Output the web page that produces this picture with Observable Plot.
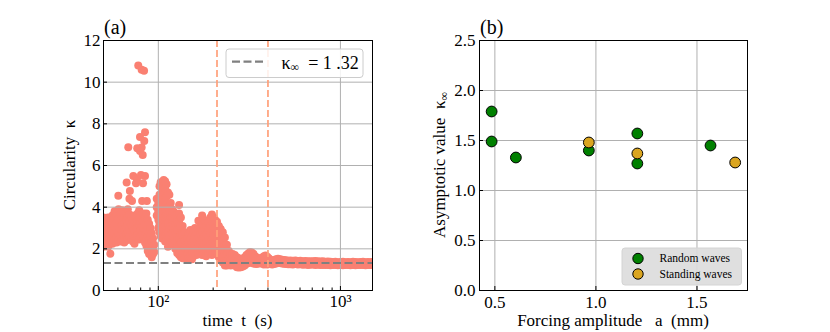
<!DOCTYPE html>
<html><head><meta charset="utf-8">
<script src="https://cdn.jsdelivr.net/npm/d3@7"></script>
<script src="https://cdn.jsdelivr.net/npm/@observablehq/plot@0.6"></script>
<style>
html,body{margin:0;padding:0;background:#fff;}
#wrap{display:flex;width:830px;height:332px;overflow:hidden;}
</style></head><body><div id="wrap"></div>
<script>
// ---------- Panel (a): circularity vs time ----------
// isolated high values (t in s, kappa)
const peakT = [68.4, 77.6, 81, 83.5, 84.5, 79.3, 83.7, 76.6, 81, 79.3, 82.1, 67, 72.9, 76.3, 80.3, 84.5, 75.4, 82.4, 69.8, 69.4, 71.7, 60.3, 81.5, 86.5];
const peakK = [6.88, 10.8, 10.6, 10.55, 7.6, 7.37, 7.18, 6.83, 6.86, 6.7, 6.5, 5.18, 5.5, 5.35, 5.55, 5.5, 5.15, 5.15, 4.78, 4.4, 4.3, 4.55, 4.3, 4.3];
// early burst: [t, kappa values at that time]
const burstRows = [
  [50,[3.5,3.15,2.8,2.45,2.1]],[51.5,[3.35,3.0,2.65,2.3]],[53,[3.5,3.15,2.8,2.45,2.1]],
  [54.5,[3.3,2.95,2.6,2.25,1.77]],[56,[3.6,3.25,2.9,2.55,2.25]],[57.5,[3.8,3.45,3.1,2.75,2.4]],
  [59,[3.6,3.25,2.9,2.55,2.3]],[60.5,[3.9,3.45,3.1,2.75,2.4]],[62,[3.7,3.35,3.0,2.65,2.35]],
  [63.5,[3.85,3.5,3.15,2.8,2.45]],[65,[3.6,3.25,2.9,2.55,2.3]],[66.5,[3.75,3.4,3.05,2.7,2.4]],
  [68,[3.9,3.5,3.15,2.8,2.45]],[69.5,[3.65,3.3,2.95,2.6]],[71,[3.5,3.15,2.8,2.45]],
  [72.5,[3.4,3.05,2.7,2.35]],[74,[3.6,3.25,2.9,2.55,2.25]],[75.5,[3.3,2.95,2.6]],
  [77,[3.7,3.35,3.0,2.65]],[78.5,[3.85,3.5,3.15,2.8,2.45]],[80,[3.6,3.25,2.9,2.6]],
  [81.5,[3.4,3.05,2.7]],[83,[3.7,3.35,3.0,2.6]],[84.5,[3.5,3.1,2.7,2.3]],
  [86,[3.7,3.3,2.9,2.5,2.15]],[87.5,[3.4,3.0,2.6,2.2,1.9]],[89,[3.2,2.8,2.4,2.0,1.75]],
  [90.5,[3.0,2.6,2.2,1.85]],[92,[2.75,2.35,1.95,1.6]],[93.5,[2.5,2.1,1.75]],[95,[2.2,1.85]]
];
// decay towards the plateau
const decayRows = [
  [98,[4.4,4.0,3.6]],[100,[4.2,3.8,3.4,3.0]],[101.5,[5.0,4.6,3.2,2.8]],
  [103,[5.2,4.3,3.9,3.5,2.6]],[105,[4.9,4.5,4.1,3.7,3.3,2.9,2.5]],[107,[5.3,4.7,3.8,3.4,3.0,2.6]],
  [109,[5.25,4.9,4.3,3.9,3.5,3.1,2.7,2.35]],[111,[5.1,4.5,4.1,3.6,3.2,2.8,2.4]],
  [113,[4.7,4.0,3.6,3.2,2.8,2.4,2.1]],[115,[4.6,3.8,3.4,3.0,2.6,2.2]],[117,[4.2,3.5,3.1,2.7,2.3]],
  [119,[3.9,3.5,3.1,2.7,2.3]],[121,[3.8,3.4,3.0,2.6,2.2]],[124,[3.6,3.2,2.8,2.4,2.0]],
  [127,[3.3,2.9,2.5,2.1,1.8]],[130,[4.1,3.7,3.3,2.9,2.5,2.1,1.7]],[133,[3.5,3.1,2.7,2.3,1.9,1.6]],
  [136,[3.1,2.7,2.3,1.9,1.55]],[140,[2.8,2.4,2.0,1.6]],[144,[2.5,2.1,1.75,1.5]],
  [147,[2.7,2.3,1.9,1.55]],[150,[2.9,2.5,2.1,1.7]],[153,[2.6,2.2,1.8,1.5]],
  [156,[2.8,2.4,2.0,1.65]],[159,[3.0,2.6,2.2,1.8]],[162,[2.8,2.4,2.0,1.7]],
  [166,[3.35,2.95,2.55,2.15,1.8]],[170,[3.1,2.7,2.3,1.9]],[174,[3.6,3.2,2.8,2.4,2.0,1.7]],
  [178,[3.4,3.0,2.6,2.2,1.85]],[183,[3.1,2.7,2.3,1.9,1.65]],[188,[3.3,2.9,2.5,2.1,1.8]],
  [193,[3.5,3.1,2.7,2.3,1.9]],[197,[3.65,3.25,2.85,2.45,2.05,1.7]],[201,[3.5,3.1,2.7,2.3,1.9]],
  [205,[3.4,3.0,2.6,2.2,1.85]],[210,[3.3,2.9,2.5,2.1,1.75]],[215,[3.1,2.7,2.3,1.9,1.6]],
  [220,[2.95,2.55,2.15,1.75,1.45]],[226,[2.8,2.4,2.0,1.6,1.35]],[232,[2.55,2.15,1.75,1.4,1.2]],
  [238,[2.2,1.8,1.45,1.2]],[244,[1.9,1.55,1.25]],[250,[1.75,1.45,1.2]]
];
// settling oscillations
const settleRows = [
  [256,[1.75,1.5,1.25]],[263,[1.7,1.45,1.2]],[270,[1.6,1.35,1.12]],[277,[1.55,1.3,1.1]],
  [284,[1.5,1.28,1.12]],[291,[1.5,1.3,1.15]],[298,[1.6,1.38,1.2]],
  [305,[1.7,1.48,1.28]],[312,[1.78,1.55,1.32]],[319,[1.85,1.6,1.35]],[326,[1.82,1.58,1.35]],
  [333,[1.75,1.5,1.3]],[340,[1.65,1.45,1.28]],[348,[1.58,1.4,1.27]],[356,[1.52,1.35]],
  [364,[1.5,1.3]],[372,[1.58,1.35]],[380,[1.65,1.42,1.25]],[388,[1.68,1.45,1.28]],
  [396,[1.62,1.42,1.25]],[404,[1.55,1.35]],[413,[1.48,1.3]],
  [422,[1.42,1.25]],[432,[1.45,1.27]],[443,[1.5,1.3]],[454,[1.52,1.32]],[466,[1.5,1.33]],
  [478,[1.48,1.3]],[490,[1.46,1.28]],[503,[1.45,1.27]],[516,[1.43,1.26]]
];
// late plateau (upper and lower edge of the narrow band)
const plateauT  = [530,548,566,584,602,622,642,663,684,706,728,752,776,800,826,853,881,910,938,968,1000,1032,1065,1100,1135,1172,1209,1248,1288,1330,1373,1417,1462,1495];
const plateauHi = [1.44,1.43,1.44,1.42,1.43,1.41,1.42,1.4,1.41,1.4,1.42,1.4,1.39,1.4,1.38,1.39,1.38,1.37,1.38,1.36,1.37,1.38,1.36,1.37,1.36,1.38,1.37,1.36,1.37,1.38,1.36,1.37,1.36,1.37];
const plateauLo = [1.26,1.25,1.27,1.25,1.26,1.24,1.25,1.23,1.24,1.25,1.23,1.24,1.22,1.23,1.22,1.23,1.21,1.22,1.23,1.21,1.22,1.21,1.22,1.23,1.21,1.22,1.21,1.22,1.23,1.22,1.21,1.22,1.23,1.22];
const kInf = 1.32;
const tMarks = [210, 400];
const yTicksA = [0, 2, 4, 6, 8, 10, 12];
const xMajorA = [100, 1000];
const xMinorA = [50, 60, 70, 80, 90, 200, 300, 400, 500, 600, 700, 800, 900];

// ---------- Panel (b): asymptotic value vs forcing amplitude ----------
const randomA   = [0.484, 0.484, 0.604, 0.965, 1.205, 1.205, 1.567];
const randomK   = [1.79, 1.49, 1.33, 1.40, 1.57, 1.27, 1.45];
const standingA = [0.965, 1.205, 1.689];
const standingK = [1.48, 1.37, 1.28];
const yTicksB = [0, 0.5, 1.0, 1.5, 2.0, 2.5];
const xTicksB = [0.5, 1.0, 1.5];
const seriesNames = ["Random waves", "Standing waves"];
const seriesColors = ["#008000", "#daa520"];

// ---------- build ----------
const rowsToPoints = rows => rows.flatMap(([t, ks]) => ks.map(k => ({t, k})));
const pointsA = [
  ...peakT.map((t, i) => ({t, k: peakK[i]})),
  ...rowsToPoints(burstRows), ...rowsToPoints(decayRows), ...rowsToPoints(settleRows),
  ...plateauT.flatMap((t, i) => [{t, k: plateauHi[i]}, {t, k: plateauLo[i]}])
];
const randomPts = randomA.map((a, i) => ({a, k: randomK[i]}));
const standingPts = standingA.map((a, i) => ({a, k: standingK[i]}));

const W = 415, H = 332;
const FONT = "Liberation Serif";
const style = {fontFamily: FONT, fontSize: "17px", color: "#000", background: "none", overflow: "visible"};
const gridStyle = {stroke: "#b0b0b0", strokeOpacity: 1, strokeWidth: 1};
const axisText = {fontSize: 17, fill: "#000"};
const mA = {top: 40, right: 43, bottom: 42, left: 103};
const mB = {top: 40, right: 83, bottom: 42, left: 64};
const fwA = W - mA.left - mA.right, fhA = H - mA.top - mA.bottom;
const fwB = W - mB.left - mB.right, fhB = H - mB.top - mB.bottom;

const plotA = Plot.plot({
  width: W, height: H,
  marginTop: mA.top, marginRight: mA.right, marginBottom: mA.bottom, marginLeft: mA.left,
  style,
  x: {type: "log", domain: [50, 1500], label: null},
  y: {domain: [0, 12], label: null},
  marks: [
    Plot.dot(pointsA, {x: "t", y: "k", r: 4, fill: "#fa8072", clip: true}),
    Plot.gridY(yTicksA, gridStyle),
    Plot.gridX(xMajorA, gridStyle),
    Plot.ruleY([kInf], {stroke: "#808080", strokeWidth: 2.2, strokeDasharray: "8,3.5"}),
    Plot.ruleX(tMarks, {stroke: "#ffa07a", strokeWidth: 1.7, strokeDasharray: "7,3"}),
    Plot.tickY(yTicksA, {y: d => d, insetRight: fwA - 4, stroke: "#000"}),
    Plot.tickX(xMajorA, {x: d => d, insetTop: fhA - 4, stroke: "#000"}),
    Plot.tickX(xMinorA, {x: d => d, insetTop: fhA - 2.5, stroke: "#000"}),
    Plot.axisY(yTicksA, {tickSize: 0, tickPadding: 3, label: null, ...axisText}),
    Plot.axisX(xMajorA, {tickSize: 0, tickPadding: 4, label: null, ...axisText, tickFormat: d => d === 100 ? "10\u00b2" : "10\u00b3"}),
    Plot.frame({stroke: "#000", strokeWidth: 1})
  ]
});

const plotB = Plot.plot({
  width: W, height: H,
  marginTop: mB.top, marginRight: mB.right, marginBottom: mB.bottom, marginLeft: mB.left,
  style,
  x: {domain: [0.424, 1.75], label: null},
  y: {domain: [0, 2.5], label: null},
  marks: [
    Plot.gridY(yTicksB, gridStyle),
    Plot.gridX(xTicksB, gridStyle),
    Plot.dot(randomPts, {x: "a", y: "k", r: 5.4, fill: seriesColors[0], stroke: "#000", strokeWidth: 1}),
    Plot.dot(standingPts, {x: "a", y: "k", r: 5.4, fill: seriesColors[1], stroke: "#000", strokeWidth: 1}),
    Plot.tickY(yTicksB, {y: d => d, insetRight: fwB - 4, stroke: "#000"}),
    Plot.tickX(xTicksB, {x: d => d, insetTop: fhB - 4, stroke: "#000"}),
    Plot.axisY(yTicksB, {tickSize: 0, tickPadding: 4, label: null, ...axisText, tickFormat: d3.format(".1f")}),
    Plot.axisX(xTicksB, {tickSize: 0, tickPadding: 5, label: null, ...axisText, tickFormat: d3.format(".1f")}),
    Plot.frame({stroke: "#000", strokeWidth: 1})
  ]
});

const wrap = document.getElementById("wrap");
wrap.appendChild(plotA);
wrap.appendChild(plotB);

// force serif font and size on every text Plot produced
d3.selectAll("#wrap svg text").each(function () {
  this.style.setProperty("font-family", "'Liberation Serif', serif", "important");
});
d3.selectAll("#wrap svg g").each(function () {
  const lab = this.getAttribute("aria-label") || "";
  if (lab.endsWith("tick label")) {
    this.style.setProperty("font-family", "'Liberation Serif', serif", "important");
    this.style.setProperty("font-size", "17px", "important");
    d3.select(this).selectAll("text").each(function () {
      this.style.setProperty("font-size", "17px", "important");
    });
  }
});

function addText(svg, x, y, parts, {size = 17, anchor = "middle", rotate = 0} = {}) {
  const t = d3.select(svg).append("text")
    .attr("transform", `translate(${x},${y}) rotate(${rotate})`)
    .attr("text-anchor", anchor).attr("font-size", size)
    .attr("fill", "#000")
    .style("font-family", "'Liberation Serif', serif")
    .style("white-space", "pre");
  for (const p of parts) {
    const s = t.append("tspan").text(p.text);
    if (p.size) s.attr("font-size", p.size);
    if (p.dy) s.attr("dy", p.dy);
  }
  return t;
}
const nb = "\u00a0";
// panel a texts
addText(plotA, mA.left + 1, 34, [{text: "(a)"}], {size: 20, anchor: "start"});
addText(plotA, 75, mA.top + fhA / 2, [{text: "Circularity" + nb + nb + "\u03ba"}], {rotate: -90});
addText(plotA, mA.left + fwA / 2, 326, [{text: "time" + nb + nb + "t" + nb + nb + "(s)"}]);
// panel a legend
{
  const g = d3.select(plotA).append("g");
  const x0 = mA.left + fwA - 146, y0 = mA.top + 9;
  g.append("rect").attr("x", x0).attr("y", y0).attr("width", 137).attr("height", 28.5)
    .attr("rx", 3).attr("fill", "#fff").attr("fill-opacity", 0.85).attr("stroke", "#cccccc");
  g.append("line").attr("x1", x0 + 6).attr("x2", x0 + 40).attr("y1", y0 + 12.7).attr("y2", y0 + 12.7)
    .attr("stroke", "#808080").attr("stroke-width", 2.2).attr("stroke-dasharray", "8,3.5");
  addText(plotA, x0 + 55.5, y0 + 19.5, [
    {text: "\u03ba"}, {text: "\u221e", size: 12, dy: 2},
    {text: nb + nb + "= " + String(kInf).replace(".", " ."), size: 18, dy: -2}
  ], {size: 18, anchor: "start"});
}
// panel b texts
addText(plotB, mB.left + 1, 34, [{text: "(b)"}], {size: 20, anchor: "start"});
addText(plotB, 30, mB.top + fhB / 2, [{text: "Asymptotic value" + nb + nb + "\u03ba"}, {text: "\u221e", size: 12, dy: 3}], {rotate: -90});
addText(plotB, mB.left + fwB / 2, 326, [{text: "Forcing amplitude" + nb + nb + nb + "a" + nb + nb + "(mm)"}]);
// panel b legend
{
  const g = d3.select(plotB).append("g");
  const x1 = mB.left + fwB - 5.5, y1 = mB.top + fhB - 5;
  const x0 = x1 - 119.5, y0 = y1 - 37;
  g.append("rect").attr("x", x0).attr("y", y0).attr("width", 119.5).attr("height", 37)
    .attr("rx", 3).attr("fill", "#dcdcdc").attr("fill-opacity", 0.9).attr("stroke", "#d4d4d4");
  seriesNames.forEach((name, i) => {
    const cy = y0 + 10.5 + i * 15.5;
    g.append("circle").attr("cx", x0 + 16).attr("cy", cy).attr("r", 5.2)
      .attr("fill", seriesColors[i]).attr("stroke", "#000").attr("stroke-width", 1);
    addText(plotB, x0 + 37.5, cy + 3.6, [{text: name.replace(" ", nb)}], {size: 11.5, anchor: "start"});
  });
}
</script>
</body></html>
